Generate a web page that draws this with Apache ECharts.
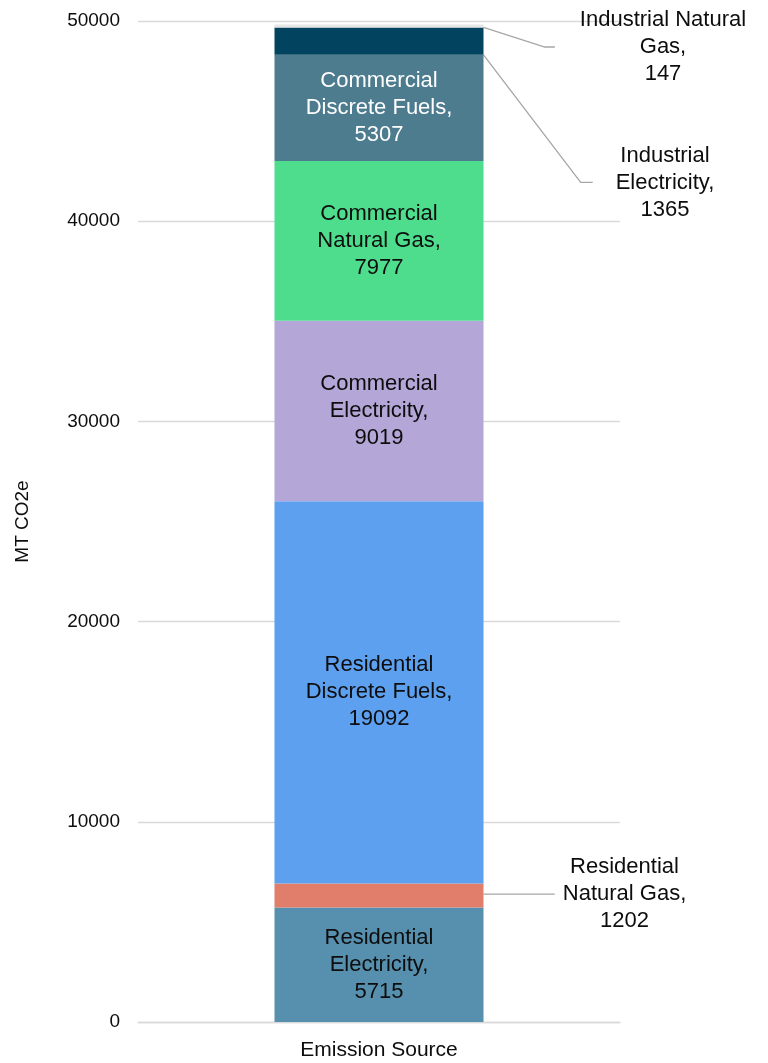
<!DOCTYPE html>
<html>
<head>
	<meta charset="utf-8">
	<script src="https://cdn.jsdelivr.net/npm/echarts@6/dist/echarts.min.js"></script>
	<title>Emission Source</title>
	<style>
		html, body { margin: 0; padding: 0; background: #fff; }
	</style>
</head>
<body>
	<div id="main" style="width: 768px;height:1063px;"></div>

	<script type="text/javascript">
	    // data, bottom of the stack first
	    var categories = ['Emission Source'];
	    var sourceNames = [
	        'Residential Electricity',
	        'Residential Natural Gas',
	        'Residential Discrete Fuels',
	        'Commercial Electricity',
	        'Commercial Natural Gas',
	        'Commercial Discrete Fuels',
	        'Industrial Electricity',
	        'Industrial Natural Gas'
	    ];
	    var sourceValues = [5715, 1202, 19092, 9019, 7977, 5307, 1365, 147];
	    var labelTexts = [
	        'Residential\nElectricity,',
	        'Residential\nNatural Gas,',
	        'Residential\nDiscrete Fuels,',
	        'Commercial\nElectricity,',
	        'Commercial\nNatural Gas,',
	        'Commercial\nDiscrete Fuels,',
	        'Industrial\nElectricity,',
	        'Industrial Natural\nGas,'
	    ];
	    var yTicks = [0, 10000, 20000, 30000, 40000, 50000];

	    var colors = ['#5690ae', '#e07e6b', '#5da0f0', '#b4a6d6', '#4edd8d', '#4e7c8f', '#02445f', '#e6e6e6'];
	    var FONT = "'Liberation Sans', Arial, sans-serif";

	    // labels that sit outside the bar, with leader lines
	    // [dx from bar right, y from bar top (or 'mid'), padding left, length2]
	    var outside = {
	        1: [137, 'mid', 8, 0],
	        6: [170, 155, 23, 12],
	        7: [167, 22.5, 25, 10]
	    };

	    var series = sourceNames.map(function (name, i) {
	        var s = {
	            name: name,
	            type: 'bar',
	            stack: 'total',
	            barWidth: 209,
	            itemStyle: { color: colors[i] },
	            data: [sourceValues[i]],
	            label: {
	                show: !outside[i] && i !== 6,
	                position: 'inside',
	                fontFamily: FONT,
	                fontSize: 22,
	                lineHeight: 27,
	                color: i === 5 ? '#ffffff' : '#0d0d0d',
	                align: 'center',
	                formatter: function (p) { return labelTexts[i] + '\n' + p.value; }
	            }
	        };
	        if (outside[i]) {
	            var o = outside[i];
	            s.label.show = true;
	            s.label.position = 'right';
	            s.label.padding = [0, 0, 0, o[2]];
	            s.labelLine = {
	                show: true,
	                length2: o[3],
	                lineStyle: { color: '#a6a6a6', width: 1.3 }
	            };
	            s.labelLayout = function (p) {
	                var yy = o[1] === 'mid' ? p.rect.y + p.rect.height / 2 - 1.5 : p.rect.y + o[1];
	                return {
	                    x: p.rect.x + p.rect.width + o[0],
	                    y: yy,
	                    align: 'center',
	                    verticalAlign: 'middle'
	                };
	            };
	        }
	        return s;
	    });

	    var myChart = echarts.init(document.getElementById('main'));

	    var option = {
	        animation: false,
	        backgroundColor: '#ffffff',
	        grid: { left: 138, right: 148, top: 21, bottom: 41 },
	        xAxis: {
	            type: 'category',
	            data: categories,
	            axisLine: { show: true, lineStyle: { color: '#d9d9d9', width: 1.3 } },
	            axisTick: { show: false },
	            axisLabel: { fontFamily: FONT, fontSize: 21, color: '#0d0d0d', margin: 18 }
	        },
	        yAxis: {
	            type: 'value',
	            min: yTicks[0],
	            max: yTicks[yTicks.length - 1],
	            interval: yTicks[1] - yTicks[0],
	            name: 'MT CO2e',
	            nameLocation: 'middle',
	            nameRotate: 90,
	            nameGap: 106,
	            nameTextStyle: { fontFamily: FONT, fontSize: 19, color: '#0d0d0d' },
	            axisLine: { show: false },
	            axisTick: { show: false },
	            axisLabel: {
	                fontFamily: FONT, fontSize: 19, color: '#0d0d0d', margin: 18,
	                formatter: function (v) { return String(v); }
	            },
	            splitLine: { lineStyle: { color: '#d9d9d9', width: 1.3 } }
	        },
	        series: series
	    };

	    myChart.setOption(option);
    </script>
</body>
</html>
